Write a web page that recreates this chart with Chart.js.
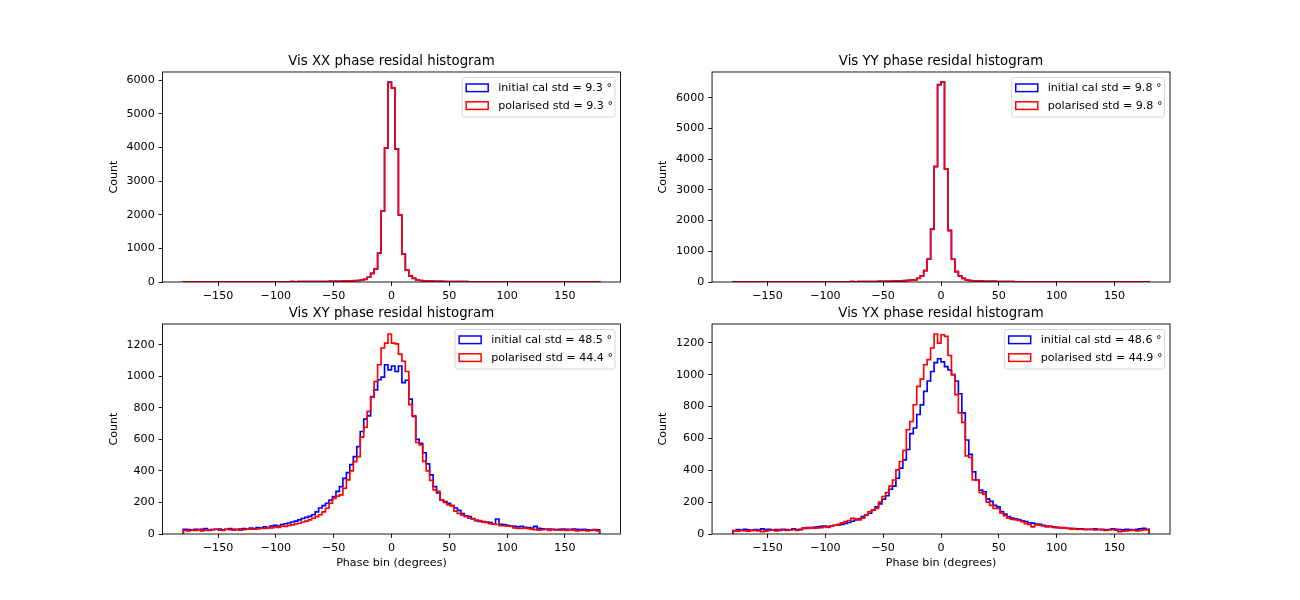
<!DOCTYPE html>
<html><head><meta charset="utf-8">
<script src="https://cdn.jsdelivr.net/npm/chart.js@4.4.1/dist/chart.umd.min.js"></script>
<style>
html,body{margin:0;padding:0;background:#fff;}
#fig{position:relative;width:1300px;height:600px;background:#fff;overflow:hidden;}
#fig canvas{position:absolute;}
</style></head><body>
<div id="fig">
<canvas id="c0" width="650" height="305" style="left:0px;top:0px;width:650px;height:305px"></canvas>
<canvas id="c1" width="650" height="305" style="left:650px;top:0px;width:650px;height:305px"></canvas>
<canvas id="c2" width="650" height="295" style="left:0px;top:305px;width:650px;height:295px"></canvas>
<canvas id="c3" width="650" height="295" style="left:650px;top:305px;width:650px;height:295px"></canvas>
</div>
<script>
// ---- bins (120 bins of 3 degrees, -180..180) ----
const nBins = 120;
const binStart = -180;
const binWidth = 3;
const binEdges = Array.from({length: nBins}, (_, i) => binStart + i * binWidth);
const binEnd = 180;

// ---- tick labels ----
const xTickValues = [-150, -100, -50, 0, 50, 100, 150];
const yTicksTop = [0, 1000, 2000, 3000, 4000, 5000, 6000];
const yTicksBottom = [0, 200, 400, 600, 800, 1000, 1200];

// ---- titles / labels ----
const titles = ['Vis XX phase residal histogram', 'Vis YY phase residal histogram',
                'Vis XY phase residal histogram', 'Vis YX phase residal histogram'];
const stdInitial = ['9.3', '9.8', '48.5', '48.6'];
const stdPolarised = ['9.3', '9.8', '44.4', '44.9'];
const xLabel = 'Phase bin (degrees)';
const yLabel = 'Count';

// ---- counts: Vis XX ----
const xxInitial = [
 3,2,4,3,5,2,3,4,3,5, 4,3,5,4,6,3,5,4,6,5,
 5,6,4,7,5,6,8,6,7,8, 8,9,7,10,9,11,10,12,11,13,
 14,16,17,19,20,23,25,29,32,39, 46,58,82,142,258,388,860,2110,3975,5945,
 5760,3955,1990,830,358,182,108,63,46,35, 31,26,23,20,17,16,14,12,11,10,
 9,9,8,8,7,7,6,6,5,6, 5,5,4,5,4,4,3,4,3,4,
 3,3,4,2,3,3,2,3,2,3, 2,3,2,2,3,2,2,3,2,2];
const xxPolarised = [
 3,2,4,3,5,2,3,4,3,5, 4,3,5,4,6,3,5,4,6,5,
 5,6,4,7,5,6,8,6,7,8, 8,9,7,10,9,11,10,12,11,13,
 14,15,17,18,20,22,25,28,32,38, 45,58,80,140,255,385,855,2105,3985,5930,
 5770,3945,1995,825,355,180,110,62,45,36, 30,26,22,20,17,15,14,12,11,10,
 9,9,8,8,7,7,6,6,5,6, 5,5,4,5,4,4,3,4,3,4,
 3,3,4,2,3,3,2,3,2,3, 2,3,2,2,3,2,2,3,2,2];

// ---- counts: Vis YY ----
const yyInitial = [
 2,3,2,4,3,2,3,3,4,2, 3,4,3,5,4,3,4,5,4,5,
 5,4,6,5,6,7,5,6,7,8, 7,8,9,8,10,9,11,10,12,12,
 14,16,18,20,23,25,28,33,36,43, 51,63,70,122,200,372,745,1720,3760,6425,
 6510,3680,1680,742,338,198,118,69,50,40, 34,30,26,23,20,18,16,14,12,11,
 10,9,8,8,7,7,6,6,5,5, 5,4,5,4,4,3,4,3,3,4,
 3,2,3,3,2,3,2,2,3,2, 2,3,2,2,2,3,2,2,2,3];
const yyPolarised = [
 2,3,2,4,3,2,3,3,4,2, 3,4,3,5,4,3,4,5,4,5,
 5,4,6,5,6,7,5,6,7,8, 7,8,9,8,10,9,11,10,12,12,
 14,15,18,20,22,25,28,32,36,42, 50,62,68,120,196,370,740,1715,3765,6430,
 6515,3675,1675,740,340,196,120,68,50,40, 34,30,26,23,20,18,16,14,12,11,
 10,9,8,8,7,7,6,6,5,5, 5,4,5,4,4,3,4,3,3,4,
 3,2,3,3,2,3,2,2,3,2, 2,3,2,2,2,3,2,2,2,3];

// ---- counts: Vis XY ----
const xyInitial = [
 30,28,25,30,28,30,35,25,28,30, 32,27,30,35,30,28,32,35,30,38,
 35,40,38,45,40,50,55,50,60,65, 70,76,82,90,98,105,112,122,140,165,
 180,195,215,237,270,300,353,389,440,491, 554,650,728,749,872,914,978,995,1073,1041,
 1065,1030,1065,960,975,855,745,600,575,515, 445,375,300,260,215,205,195,180,165,150,
 130,115,110,95,85,80,78,75,72,62, 95,62,60,55,50,48,45,48,42,40,
 38,48,36,33,30,32,30,28,30,32, 30,28,32,30,28,30,27,25,28,26];
const xyPolarised = [
 22,20,25,22,28,20,25,22,28,30, 25,22,30,28,25,30,25,28,32,30,
 30,32,35,35,40,38,45,42,50,48, 55,58,64,68,76,82,90,100,110,122,
 140,163,195,226,240,248,290,343,400,459, 491,614,677,777,868,967,1073,1179,1210,1268,
 1210,1205,1140,1095,1030,820,750,580,565,460, 400,340,280,270,215,200,185,180,145,130,
 120,110,100,98,88,85,75,72,65,62, 60,52,52,50,48,38,36,35,37,34,
 30,28,25,27,30,22,28,25,24,26, 22,28,25,20,22,24,20,22,25,20];

// ---- counts: Vis YX ----
const yxInitial = [
 22,28,24,30,26,22,28,25,32,27, 30,25,28,22,30,28,25,32,28,30,
 35,40,38,42,45,48,50,46,50,55, 57,60,67,72,80,88,95,109,120,130,
 150,170,189,218,240,281,300,350,413,465, 530,630,665,750,810,895,960,1020,1075,1100,
 1080,1050,1030,1000,960,880,760,590,500,390, 340,275,265,220,205,180,170,140,125,110,
 100,95,90,82,78,70,68,62,60,55, 50,48,45,42,40,38,36,35,34,32,
 32,30,28,30,32,28,30,26,28,32, 30,28,26,30,28,26,30,32,35,30];
const yxPolarised = [
 20,18,22,20,18,25,22,20,15,18, 22,25,20,28,25,22,25,28,22,25,
 38,35,40,36,38,40,45,42,50,55, 60,70,78,85,98,95,88,100,120,140,
 150,161,200,235,260,300,339,402,455,524, 654,706,811,926,972,1062,1094,1167,1255,1198,
 1250,1240,1120,1000,875,760,700,490,480,340, 340,260,250,200,180,160,160,130,115,100,
 92,90,85,78,65,60,45,58,55,50, 45,48,42,40,38,40,35,30,32,28,
 30,27,30,28,25,28,26,22,25,28, 24,15,18,20,22,25,20,22,26,25];

// ---------------------------------------------------------------
const FONT = "'DejaVu Sans', 'Liberation Sans', sans-serif";
const FS = 11.1;      // 10pt at 80 dpi
const FS_TITLE = 13.3; // 12pt at 80 dpi
const fmt = v => (v < 0 ? '\u2212' + Math.abs(v) : String(v));

function toSteps(counts) {
  const pts = [{x: binStart, y: 0}];
  binEdges.forEach((e, i) => pts.push({x: e, y: counts[i]}));
  pts.push({x: binEnd, y: 0});
  return pts;
}

const framePlugin = {
  id: 'mplFrame',
  afterDatasetsDraw(chart) {
    const {ctx, chartArea: a} = chart;
    ctx.save();
    ctx.strokeStyle = '#000';
    ctx.lineWidth = 0.9;
    ctx.strokeRect(a.left, a.top, a.right - a.left, a.bottom - a.top);
    ctx.restore();
  },
  afterDraw(chart, args, opts) {
    const {ctx, chartArea: a} = chart;
    ctx.save();
    // title
    ctx.font = FS_TITLE + 'px ' + FONT;
    ctx.fillStyle = '#000';
    ctx.textAlign = 'center';
    ctx.textBaseline = 'alphabetic';
    ctx.fillText(opts.title, (a.left + a.right) / 2, a.top - 7.5);
    // legend
    ctx.font = FS + 'px ' + FONT;
    const ds = chart.data.datasets;
    const tw = Math.max(...ds.map(d => ctx.measureText(d.label).width));
    const w = 36 + tw + 2;
    const h = 39.5;
    const right = a.right - 5.5, top = a.top + 5.5, left = right - w;
    const r = 2.2;
    ctx.beginPath();
    ctx.moveTo(left + r, top);
    ctx.lineTo(right - r, top); ctx.arcTo(right, top, right, top + r, r);
    ctx.lineTo(right, top + h - r); ctx.arcTo(right, top + h, right - r, top + h, r);
    ctx.lineTo(left + r, top + h); ctx.arcTo(left, top + h, left, top + h - r, r);
    ctx.lineTo(left, top + r); ctx.arcTo(left, top, left + r, top, r);
    ctx.closePath();
    ctx.fillStyle = 'rgba(255,255,255,0.8)';
    ctx.fill();
    ctx.strokeStyle = 'rgba(204,204,204,0.8)';
    ctx.lineWidth = 1;
    ctx.stroke();
    ds.forEach((d, i) => {
      const cy = top + 10.3 + i * 17.8;
      ctx.strokeStyle = d.borderColor;
      ctx.lineWidth = 1.5;
      ctx.strokeRect(left + 4, cy - 3.8, 22, 7.6);
      ctx.fillStyle = '#000';
      ctx.textAlign = 'left';
      ctx.textBaseline = 'middle';
      ctx.fillText(d.label, left + 36, cy + 0.5);
    });
    ctx.restore();
  }
};

function makeChart(id, idx, initial, polarised, yTicks, area, H, withXLabel) {
  const W = 650;
  const yAxisW = 60;
  const xAxisH = withXLabel ? 40 : 20;
  const ymax = Math.max(...initial, ...polarised) * 1.05;
  const xmin = binStart - 0.05 * (binEnd - binStart);
  const xmax = binEnd + 0.05 * (binEnd - binStart);
  const tickFont = {family: FONT, size: FS};
  return new Chart(document.getElementById(id), {
    type: 'line',
    data: {
      datasets: [
        {label: 'initial cal std = ' + stdInitial[idx] + ' \u00B0', data: toSteps(initial),
         borderColor: '#0000ff', borderWidth: 1.65, pointRadius: 0, stepped: true,
         fill: false, tension: 0, order: 2},
        {label: 'polarised std = ' + stdPolarised[idx] + ' \u00B0', data: toSteps(polarised),
         borderColor: '#ff0000', borderWidth: 1.65, pointRadius: 0, stepped: true,
         fill: false, tension: 0, order: 1}
      ]
    },
    options: {
      responsive: false,
      animation: false,
      devicePixelRatio: 1,
      layout: {padding: {left: area.left - yAxisW, right: W - area.right, top: area.top,
                         bottom: H - area.bottom - xAxisH}},
      plugins: {legend: {display: false}, tooltip: {enabled: false},
                mplFrame: {title: titles[idx]}},
      scales: {
        x: {
          type: 'linear', min: xmin, max: xmax,
          afterFit: s => { s.height = xAxisH; },
          afterBuildTicks: s => { s.ticks = xTickValues.map(v => ({value: v})); },
          grid: {display: true, drawOnChartArea: false, drawTicks: true, tickLength: 3.9,
                 color: '#000', lineWidth: 0.9},
          border: {display: false},
          ticks: {font: tickFont, color: '#000', padding: 3.2, maxRotation: 0,
                  autoSkip: false, callback: v => fmt(v)},
          title: {display: withXLabel, text: xLabel, font: tickFont, color: '#000',
                  padding: {top: 0, bottom: 4.3}}
        },
        y: {
          type: 'linear', min: 0, max: ymax,
          afterFit: s => { s.width = yAxisW; },
          afterBuildTicks: s => { s.ticks = yTicks.map(v => ({value: v})); },
          grid: {display: true, drawOnChartArea: false, drawTicks: true, tickLength: 3.9,
                 color: '#000', lineWidth: 0.9},
          border: {display: false},
          ticks: {font: tickFont, color: '#000', padding: 3.9, autoSkip: false,
                  callback: v => fmt(v)},
          title: {display: true, text: yLabel, font: tickFont, color: '#000',
                  padding: {top: 4.8, bottom: 0}}
        }
      }
    },
    plugins: [framePlugin]
  });
}

makeChart('c0', 0, xxInitial, xxPolarised, yTicksTop, {left: 162.5, right: 620.45, top: 72, bottom: 282}, 305, false);
makeChart('c1', 1, yyInitial, yyPolarised, yTicksTop, {left: 62.05, right: 520, top: 72, bottom: 282}, 305, false);
makeChart('c2', 2, xyInitial, xyPolarised, yTicksBottom, {left: 162.5, right: 620.45, top: 19, bottom: 229}, 295, true);
makeChart('c3', 3, yxInitial, yxPolarised, yTicksBottom, {left: 62.05, right: 520, top: 19, bottom: 229}, 295, true);
</script>
</body></html>
